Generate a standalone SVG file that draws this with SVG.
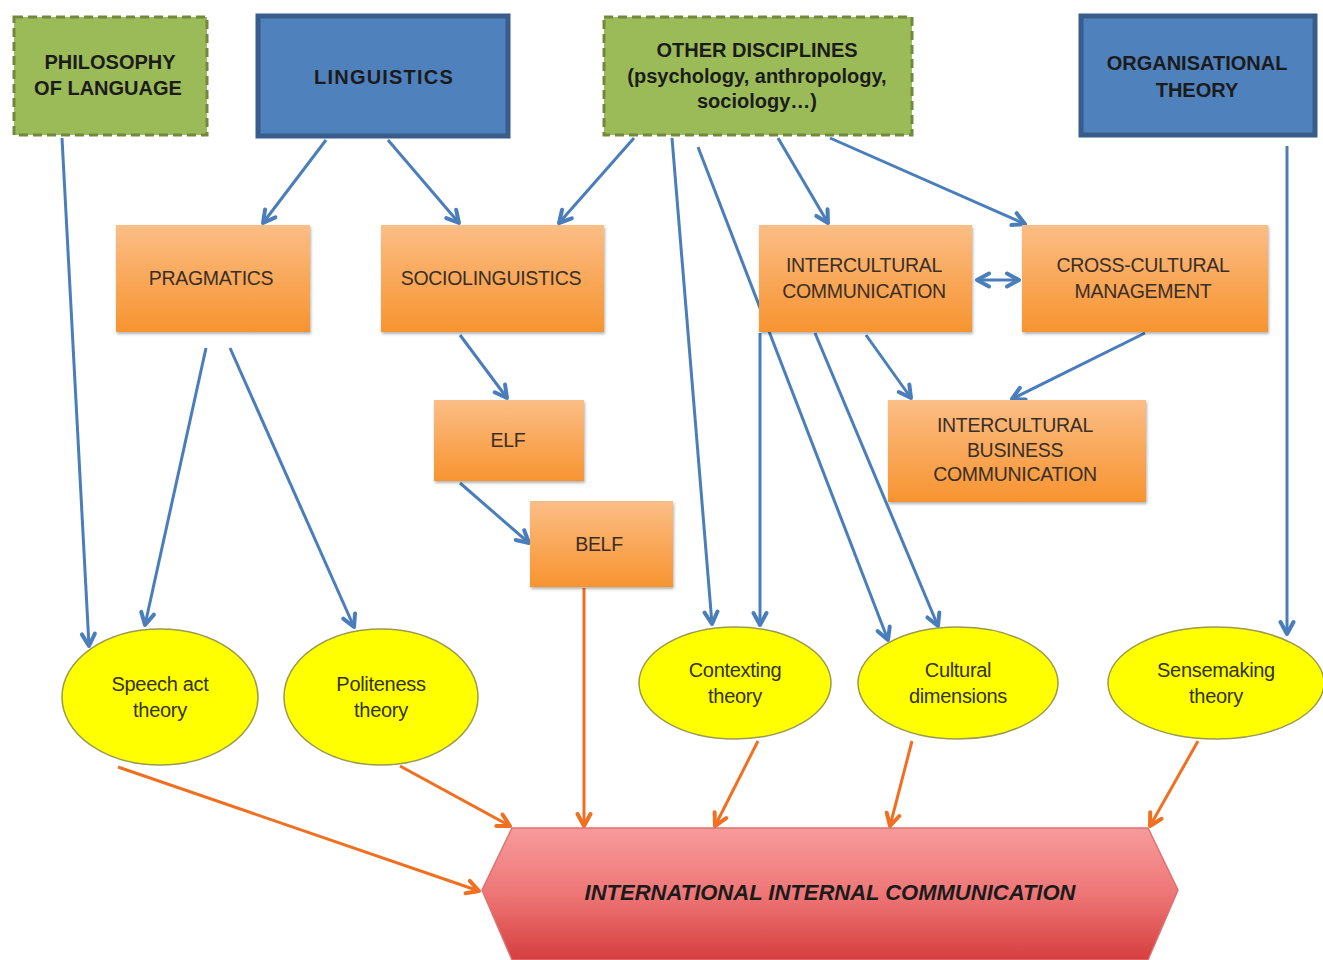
<svg xmlns="http://www.w3.org/2000/svg" width="1323" height="960" viewBox="0 0 1323 960">
<style>
.top{font-family:"Liberation Sans",Arial,sans-serif;font-weight:bold;font-size:20px;fill:#1b1b1b;text-anchor:middle}
.or{font-family:"Liberation Sans",Arial,sans-serif;font-size:19.5px;fill:#3a2e25;text-anchor:middle;letter-spacing:-0.3px}
.el{font-family:"Liberation Sans",Arial,sans-serif;font-size:20px;fill:#33330c;text-anchor:middle;letter-spacing:-0.3px}
.green{fill:#9BBB59;stroke:#71893F;stroke-width:3;stroke-dasharray:9 5}
.blue{fill:#4F81BD;stroke:#385D8A;stroke-width:5}
.obox{fill:url(#og);filter:url(#sh)}
.ell{fill:#FFFF00;stroke:#9a9a50;stroke-width:1.5}
.bl{stroke:#4A7EBB;stroke-width:3;fill:none;marker-end:url(#ab)}
.orl{stroke:#F07022;stroke-width:3;fill:none;marker-end:url(#ao)}
</style>
<defs>
<linearGradient id="og" x1="0" y1="0" x2="0" y2="1">
<stop offset="0" stop-color="#FBBE86"/>
<stop offset="0.5" stop-color="#F9A85A"/>
<stop offset="1" stop-color="#F79430"/>
</linearGradient>
<linearGradient id="rg" x1="0" y1="0" x2="0" y2="1">
<stop offset="0" stop-color="#F79B9B"/>
<stop offset="0.5" stop-color="#EE7676"/>
<stop offset="1" stop-color="#D63E3E"/>
</linearGradient>
<filter id="sh" x="-10%" y="-10%" width="125%" height="130%">
<feDropShadow dx="1" dy="2" stdDeviation="1.5" flood-color="#000" flood-opacity="0.3"/>
</filter>
<marker id="ab" viewBox="0 0 18 18" refX="15" refY="9" markerWidth="18" markerHeight="18" markerUnits="userSpaceOnUse" orient="auto-start-reverse">
<path d="M3,2.5 L15,9 L3,15.5" fill="none" stroke="#4A7EBB" stroke-width="4" stroke-linejoin="round" stroke-linecap="round"/>
</marker>
<marker id="ao" viewBox="0 0 18 18" refX="15" refY="9" markerWidth="18" markerHeight="18" markerUnits="userSpaceOnUse" orient="auto">
<path d="M3,2.5 L15,9 L3,15.5" fill="none" stroke="#F07022" stroke-width="4" stroke-linejoin="round" stroke-linecap="round"/>
</marker>
</defs>
<rect width="1323" height="960" fill="#ffffff"/>

<g id="connectors">
<line class="bl" x1="62" y1="138" x2="89" y2="646"/>
<line class="bl" x1="326" y1="140" x2="263" y2="223"/>
<line class="bl" x1="388" y1="140" x2="459" y2="223"/>
<line class="bl" x1="634" y1="138" x2="559" y2="223"/>
<line class="bl" x1="672" y1="138" x2="712" y2="624"/>
<line class="bl" x1="698" y1="147" x2="888" y2="640"/>
<line class="bl" x1="778" y1="138" x2="828" y2="223"/>
<line class="bl" x1="830" y1="138" x2="1025" y2="224"/>
<line class="bl" x1="1287" y1="146" x2="1287" y2="634"/>
<line class="bl" x1="206" y1="348" x2="145" y2="625"/>
<line class="bl" x1="230" y1="348" x2="354" y2="627"/>
<line class="bl" x1="460" y1="335" x2="507" y2="398"/>
<line class="bl" x1="460" y1="483" x2="529" y2="543"/>
<line class="bl" x1="977" y1="280" x2="1019" y2="280" style="marker-start:url(#ab)"/>
<line class="bl" x1="866" y1="335" x2="911" y2="398"/>
<line class="bl" x1="1145" y1="333" x2="1012" y2="399"/>
<line class="bl" x1="760" y1="333" x2="760" y2="625"/>
<line class="bl" x1="815" y1="333" x2="938" y2="626"/>
<line class="orl" x1="118" y1="767" x2="479" y2="891"/>
<line class="orl" x1="400" y1="766" x2="510" y2="826"/>
<line class="orl" x1="584" y1="588" x2="584" y2="826"/>
<line class="orl" x1="758" y1="741" x2="715" y2="826"/>
<line class="orl" x1="912" y1="741" x2="890" y2="826"/>
<line class="orl" x1="1198" y1="741" x2="1150" y2="826"/>
</g>

<g id="philosophy">
<rect class="green" x="14" y="17" width="193" height="118"/>
<text class="top" x="110" y="69">PHILOSOPHY</text>
<text class="top" x="108" y="95">OF LANGUAGE</text>
</g>
<g id="linguistics">
<rect class="blue" x="258" y="16" width="250" height="120"/>
<text class="top" x="384" y="84" style="letter-spacing:1.2px">LINGUISTICS</text>
</g>
<g id="other">
<rect class="green" x="604" y="17" width="308" height="118"/>
<text class="top" x="757" y="57">OTHER DISCIPLINES</text>
<text class="top" x="757" y="83">(psychology, anthropology,</text>
<text class="top" x="757" y="108">sociology…)</text>
</g>
<g id="organisational">
<rect class="blue" x="1081" y="16" width="234" height="119"/>
<text class="top" x="1197" y="70">ORGANISATIONAL</text>
<text class="top" x="1197" y="97">THEORY</text>
</g>

<g id="pragmatics">
<rect class="obox" x="116" y="225" width="194" height="107"/>
<text class="or" x="211" y="285">PRAGMATICS</text>
</g>
<g id="sociolinguistics">
<rect class="obox" x="381" y="225" width="223" height="107"/>
<text class="or" x="491" y="285">SOCIOLINGUISTICS</text>
</g>
<g id="intercultural">
<rect class="obox" x="759" y="225" width="213" height="107"/>
<text class="or" x="864" y="272">INTERCULTURAL</text>
<text class="or" x="864" y="298">COMMUNICATION</text>
</g>
<g id="crosscultural">
<rect class="obox" x="1022" y="225" width="246" height="107"/>
<text class="or" x="1143" y="272">CROSS-CULTURAL</text>
<text class="or" x="1143" y="298">MANAGEMENT</text>
</g>
<g id="ibc">
<rect class="obox" x="888" y="400" width="258" height="102"/>
<text class="or" x="1015" y="432">INTERCULTURAL</text>
<text class="or" x="1015" y="457">BUSINESS</text>
<text class="or" x="1015" y="481">COMMUNICATION</text>
</g>
<g id="elf">
<rect class="obox" x="434" y="400" width="150" height="81"/>
<text class="or" x="508" y="447">ELF</text>
</g>
<g id="belf">
<rect class="obox" x="530" y="501" width="143" height="86"/>
<text class="or" x="599" y="551">BELF</text>
</g>

<g id="speechact">
<ellipse class="ell" cx="160" cy="697" rx="98" ry="68"/>
<text class="el" x="160" y="691">Speech act</text>
<text class="el" x="160" y="717">theory</text>
</g>
<g id="politeness">
<ellipse class="ell" cx="381" cy="697" rx="97" ry="68"/>
<text class="el" x="381" y="691">Politeness</text>
<text class="el" x="381" y="717">theory</text>
</g>
<g id="contexting">
<ellipse class="ell" cx="735" cy="683" rx="96" ry="56"/>
<text class="el" x="735" y="677">Contexting</text>
<text class="el" x="735" y="703">theory</text>
</g>
<g id="cultural">
<ellipse class="ell" cx="958" cy="683" rx="100" ry="56"/>
<text class="el" x="958" y="677">Cultural</text>
<text class="el" x="958" y="703">dimensions</text>
</g>
<g id="sensemaking">
<ellipse class="ell" cx="1216" cy="683" rx="108" ry="56"/>
<text class="el" x="1216" y="677">Sensemaking</text>
<text class="el" x="1216" y="703">theory</text>
</g>

<g id="iic">
<polygon points="482,890 512,828 1148,828 1178,890 1148,960 512,960" fill="url(#rg)" stroke="#E07070" stroke-width="1.5"/>
<text x="830" y="900" style="font-family:'Liberation Sans',Arial,sans-serif;font-weight:bold;font-style:italic;font-size:22px;fill:#1b1b1b;text-anchor:middle">INTERNATIONAL INTERNAL COMMUNICATION</text>
</g>
</svg>
